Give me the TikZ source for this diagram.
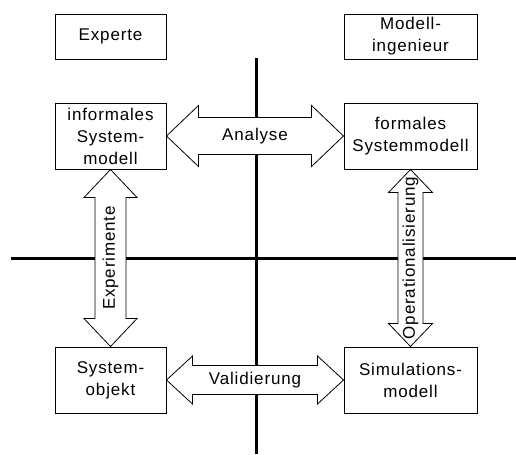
\documentclass[tikz,border=0pt]{standalone}
\usepackage{fontspec}
\setmainfont{Liberation Sans}[LetterSpace=5]
\usetikzlibrary{calc}
\newcommand\hdouble[5]{%
  \draw[bigarrow] (#1.east) -- ($(#1.east)+(#3,#5)$) -- ($(#1.east)+(#3,#4)$)
    -- ($(#2.west)+(-#3,#4)$) -- ($(#2.west)+(-#3,#5)$) -- (#2.west)
    -- ($(#2.west)+(-#3,-#5)$) -- ($(#2.west)+(-#3,-#4)$)
    -- ($(#1.east)+(#3,-#4)$) -- ($(#1.east)+(#3,-#5)$) -- cycle;}
\newcommand\vdouble[5]{%
  \draw[bigarrow] (#1.south) -- ($(#1.south)+(#5,-#3)$) -- ($(#1.south)+(#4,-#3)$)
    -- ($(#2.north)+(#4,#3)$) -- ($(#2.north)+(#5,#3)$) -- (#2.north)
    -- ($(#2.north)+(-#5,#3)$) -- ($(#2.north)+(-#4,#3)$)
    -- ($(#1.south)+(-#4,-#3)$) -- ($(#1.south)+(-#5,-#3)$) -- cycle;}
\begin{document}
\begin{tikzpicture}[x=0.75pt,y=-0.75pt,
  txt/.style={font=\fontsize{12.75}{16.5}\selectfont},
  box/.style={txt,draw,line width=0.75pt,inner sep=0pt,align=center},
  smallbox/.style={box,minimum width=83.25pt},
  widebox/.style={box,minimum width=99.75pt},
  bigarrow/.style={draw,fill=white,line width=0.6pt,line join=miter},
  axis/.style={line width=2.25pt},
  lbl/.style={txt,inner sep=0pt}]
\useasboundingbox (0,0) rectangle (516,454);
% axes
\coordinate (vtop) at (256,58);
\coordinate (vbot) at (256,454);
\coordinate (hleft) at (11,258);
\coordinate (hright) at (516,258);
\draw[axis] (vtop) -- (vbot);
\draw[axis] (hleft) -- (hright);
% boxes
\node[smallbox,minimum height=33.75pt] (experte) at (110.5,36.5) {Experte};
\node[widebox,minimum height=33.75pt] (modell) at (410.5,36.5) {Modell-\\ingenieur};
\node[smallbox,minimum height=49.5pt] (inf) at (110.5,136) {informales\\System-\\modell};
\node[widebox,minimum height=49.5pt] (form) at (410.5,136) {formales\\Systemmodell};
\node[smallbox,minimum height=49.5pt] (sysobj) at (110.5,380) {System-\\objekt};
\node[widebox,minimum height=49.5pt] (sim) at (410.5,380) {Simulations-\\modell};
% arrows
\hdouble{inf}{form}{24pt}{13.9pt}{22.9pt}
\hdouble{sysobj}{sim}{19.5pt}{10.9pt}{18pt}
\vdouble{inf}{sysobj}{21pt}{11.6pt}{19.9pt}
\vdouble{form}{sim}{17.25pt}{9.4pt}{16.5pt}
% labels
\node[lbl] (lanalyse) at ($(inf.east)!0.5!(form.west)$) {Analyse};
\node[lbl] (lvalid) at ($(sysobj.east)!0.5!(sim.west)$) {Validierung};
\node[lbl,rotate=90] (lexp) at ($(inf.south)!0.5!(sysobj.north)$) {Experimente};
\node[lbl,rotate=90] (lop) at ($(form.south)!0.5!(sim.north)$) {Operationalisierung};
\end{tikzpicture}
\end{document}
